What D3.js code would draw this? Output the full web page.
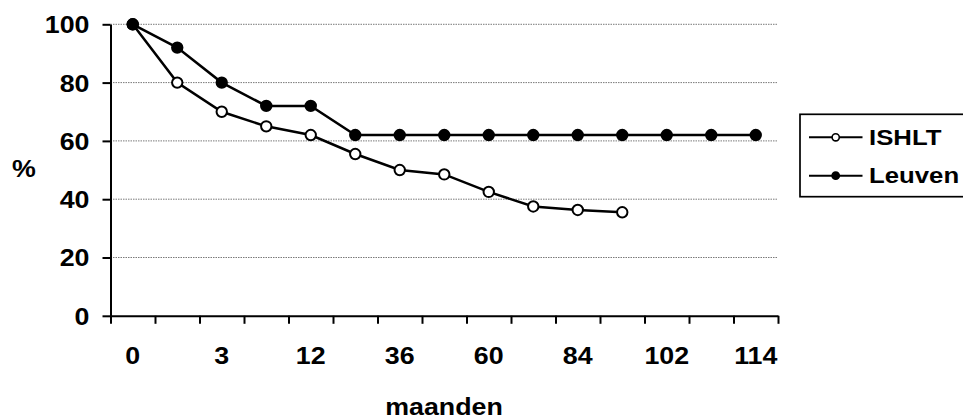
<!DOCTYPE html>
<html>
<head>
<meta charset="utf-8">
<script src="https://cdn.jsdelivr.net/npm/d3@7"></script>
<style>
    body { margin: 0; background: #fff; }
    svg text { font-family: "Liberation Sans", Arial, sans-serif; font-weight: bold; fill: #000; }
</style>
</head>
<body>
<svg id="chart" width="963" height="419"></svg>
<script>
const months = [0, 1, 3, 6, 12, 24, 36, 48, 60, 72, 84, 96, 102, 108, 114];
const shownLabels = [0, 3, 12, 36, 60, 84, 102, 114];
const yTicks = [0, 20, 40, 60, 80, 100];
const ishlt = [100, 80, 70, 65, 62, 55.5, 50, 48.5, 42.5, 37.5, 36.3, 35.5];
const leuven = [100, 92, 80, 72, 72, 62, 62, 62, 62, 62, 62, 62, 62, 62, 62];
const seriesNames = ["ISHLT", "Leuven"];

const stretch = 1.14; // text in the picture is a bit wider than plain Arial
const legendStretch = 1.12;

const svg = d3.select("#chart");
const plotLeft = 110.5, plotRight = 778, plotTop = 24.3, plotBottom = 315.8;

const x = d3.scaleBand().domain(months).range([plotLeft, plotRight]);
const xEdge = d3.scaleLinear().domain([0, months.length]).range([plotLeft, plotRight]);
const y = d3.scaleLinear().domain([0, 100]).range([plotBottom, plotTop]);

// gridlines
svg.append("g")
    .selectAll("line")
    .data(yTicks.filter(d => d > 0))
    .enter()
    .append("line")
    .attr("x1", plotLeft)
    .attr("x2", plotRight)
    .attr("y1", d => y(d))
    .attr("y2", d => y(d))
    .attr("stroke", "#7a7a7a")
    .attr("stroke-width", 1)
    .attr("stroke-dasharray", "1.5,1");

// y axis
const yAxis = svg.append("g")
    .attr("transform", `translate(${plotLeft},0)`)
    .call(d3.axisLeft(y).tickValues(yTicks).tickSize(8).tickSizeOuter(0));
yAxis.select(".domain").attr("stroke", "#000").attr("stroke-width", 2);
yAxis.selectAll(".tick line").attr("stroke", "#000").attr("stroke-width", 2);
yAxis.selectAll(".tick text")
    .attr("x", -21 / stretch)
    .attr("dy", "0.36em")
    .attr("transform", `scale(${stretch},1)`)
    .style("font-size", "23.5px");

// x axis: ticks between categories, labels under every other one
const xTickAxis = svg.append("g")
    .attr("transform", `translate(0,${plotBottom})`)
    .call(d3.axisBottom(xEdge).tickValues(d3.range(months.length + 1)).tickFormat("").tickSize(8).tickSizeOuter(0));
xTickAxis.select(".domain").attr("stroke", "#000").attr("stroke-width", 2);
xTickAxis.selectAll(".tick line").attr("stroke", "#000").attr("stroke-width", 2);

const xLabelAxis = svg.append("g")
    .attr("transform", `translate(0,${plotBottom})`)
    .call(d3.axisBottom(x).tickSize(0).tickFormat(d => shownLabels.includes(d) ? d : ""));
xLabelAxis.select(".domain").remove();
xLabelAxis.selectAll(".tick text")
    .attr("y", 48.5)
    .attr("dy", 0)
    .attr("transform", `scale(${stretch},1)`)
    .style("font-size", "23.5px");

// axis titles
svg.append("text")
    .attr("transform", `translate(444,415) scale(${stretch},1)`)
    .attr("text-anchor", "middle")
    .style("font-size", "23.5px")
    .text("maanden");

svg.append("text")
    .attr("transform", `translate(24,177) scale(${stretch},1)`)
    .attr("text-anchor", "middle")
    .style("font-size", "23.5px")
    .text("%");

// series
const line = d3.line()
    .x((d, i) => x(months[i]) + x.bandwidth() / 2)
    .y(d => y(d));

const drawSeries = (values, filled) => {
    const g = svg.append("g");
    g.append("path")
        .datum(values)
        .attr("d", line)
        .attr("fill", "none")
        .attr("stroke", "#000")
        .attr("stroke-width", 2.5);
    g.selectAll("circle")
        .data(values)
        .enter()
        .append("circle")
        .attr("cx", (d, i) => x(months[i]) + x.bandwidth() / 2)
        .attr("cy", d => y(d))
        .attr("r", 5.2)
        .attr("fill", filled ? "#000" : "#fff")
        .attr("stroke", "#000")
        .attr("stroke-width", 2);
};

drawSeries(ishlt, false);
drawSeries(leuven, true);

// legend
const legend = svg.append("g");
legend.append("rect")
    .attr("x", 800)
    .attr("y", 114.3)
    .attr("width", 190)
    .attr("height", 82.4)
    .attr("fill", "#fff")
    .attr("stroke", "#000")
    .attr("stroke-width", 1.7);

const legendRows = [137.3, 175.7];
seriesNames.forEach((name, i) => {
    const ly = legendRows[i];
    legend.append("line")
        .attr("x1", 809)
        .attr("x2", 862.5)
        .attr("y1", ly)
        .attr("y2", ly)
        .attr("stroke", "#000")
        .attr("stroke-width", 2);
    legend.append("circle")
        .attr("cx", 835.7)
        .attr("cy", ly)
        .attr("r", 3.6)
        .attr("fill", i === 0 ? "#fff" : "#000")
        .attr("stroke", "#000")
        .attr("stroke-width", 1.6);
    legend.append("text")
        .attr("transform", `translate(869,${ly + 7.2}) scale(${legendStretch},1)`)
        .style("font-size", "23px")
        .text(name);
});
</script>
</body>
</html>
